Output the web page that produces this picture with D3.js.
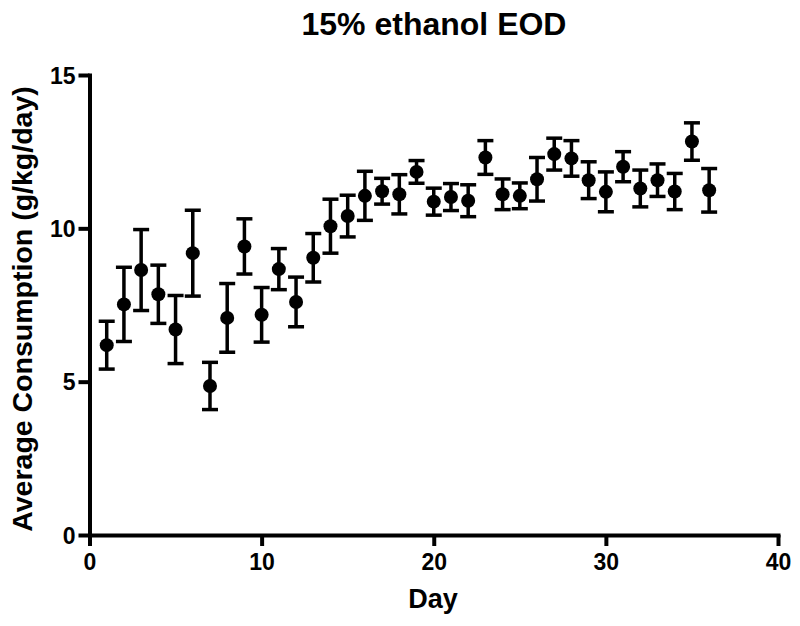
<!DOCTYPE html>
<html>
<head>
<meta charset="utf-8">
<script src="https://cdn.jsdelivr.net/npm/d3@7"></script>
<style>
  body { margin: 0; background: #fff; }
  text { font-family: "Liberation Sans", Arial, sans-serif; font-weight: bold; fill: #000; }
</style>
</head>
<body>
<svg id="chart" width="800" height="626"></svg>
<script>
const title = "15% ethanol EOD";
const xLabel = "Day";
const yLabel = "Average Consumption (g/kg/day)";
const days = [1,2,3,4,5,6,7,8,9,10,11,12,13,14,15,16,17,18,19,20,21,22,23,24,25,26,27,28,29,30,31,32,33,34,35,36];
const means = [6.19,7.52,8.64,7.85,6.70,9.19,4.86,7.08,9.41,7.18,8.67,7.60,9.04,10.07,10.40,11.06,11.21,11.11,11.84,10.87,11.02,10.90,12.31,11.11,11.06,11.60,12.42,12.28,11.57,11.19,12.01,11.30,11.57,11.20,12.83,11.24];
const errs = [0.78,1.21,1.32,0.95,1.11,1.40,0.77,1.12,0.90,0.89,0.67,0.81,0.79,0.88,0.68,0.80,0.42,0.64,0.37,0.44,0.44,0.52,0.55,0.50,0.42,0.71,0.52,0.58,0.60,0.65,0.49,0.60,0.53,0.59,0.61,0.71];
const xTicks = [0,10,20,30,40];
const yTicks = [0,5,10,15];

const svg = d3.select("#chart");
const x = d3.scaleLinear().domain([0,40]).range([89.5,778]);
const y = d3.scaleLinear().domain([0,15]).range([535,75]);

// axes
const xAxis = svg.append("g").attr("transform","translate(0,535)")
  .call(d3.axisBottom(x).tickValues(xTicks).tickSize(11).tickPadding(8).tickSizeOuter(0));
const yAxis = svg.append("g").attr("transform","translate(89.5,0)")
  .call(d3.axisLeft(y).tickValues(yTicks).tickSize(11).tickPadding(3).tickSizeOuter(0));
[xAxis,yAxis].forEach(a => {
  a.select(".domain").style("stroke","#000").style("stroke-width","4px").style("stroke-linecap","square");
  a.selectAll(".tick line").style("stroke","#000").style("stroke-width","4px");
  a.selectAll(".tick text").style("font-size","23px").style("font-family","'Liberation Sans', Arial, sans-serif").style("font-weight","bold").style("fill","#000");
});
yAxis.selectAll(".tick text").attr("dy","0.36em");

// error bars
const data = days.map((d,i) => ({d, m: means[i], e: errs[i]}));
const g = svg.append("g");
const capW = 8;
g.selectAll(".eb").data(data).join("line").attr("class","eb")
  .attr("x1", d => x(d.d)).attr("x2", d => x(d.d))
  .attr("y1", d => y(d.m + d.e)).attr("y2", d => y(d.m - d.e))
  .style("stroke","#000").style("stroke-width","3.5px");
g.selectAll(".capT").data(data).join("line").attr("class","capT")
  .attr("x1", d => x(d.d) - capW).attr("x2", d => x(d.d) + capW)
  .attr("y1", d => y(d.m + d.e)).attr("y2", d => y(d.m + d.e))
  .style("stroke","#000").style("stroke-width","3.5px");
g.selectAll(".capB").data(data).join("line").attr("class","capB")
  .attr("x1", d => x(d.d) - capW).attr("x2", d => x(d.d) + capW)
  .attr("y1", d => y(d.m - d.e)).attr("y2", d => y(d.m - d.e))
  .style("stroke","#000").style("stroke-width","3.5px");
g.selectAll("circle").data(data).join("circle")
  .attr("cx", d => x(d.d)).attr("cy", d => y(d.m)).attr("r", 7).style("fill","#000");

// titles
svg.append("text").attr("x",434).attr("y",35).attr("text-anchor","middle")
  .style("font-size","32px").text(title);
svg.append("text").attr("x",433).attr("y",608).attr("text-anchor","middle")
  .style("font-size","27px").text(xLabel);
svg.append("text").attr("transform","translate(32,309) rotate(-90)").attr("text-anchor","middle")
  .style("font-size","28.5px").text(yLabel);
</script>
</body>
</html>
